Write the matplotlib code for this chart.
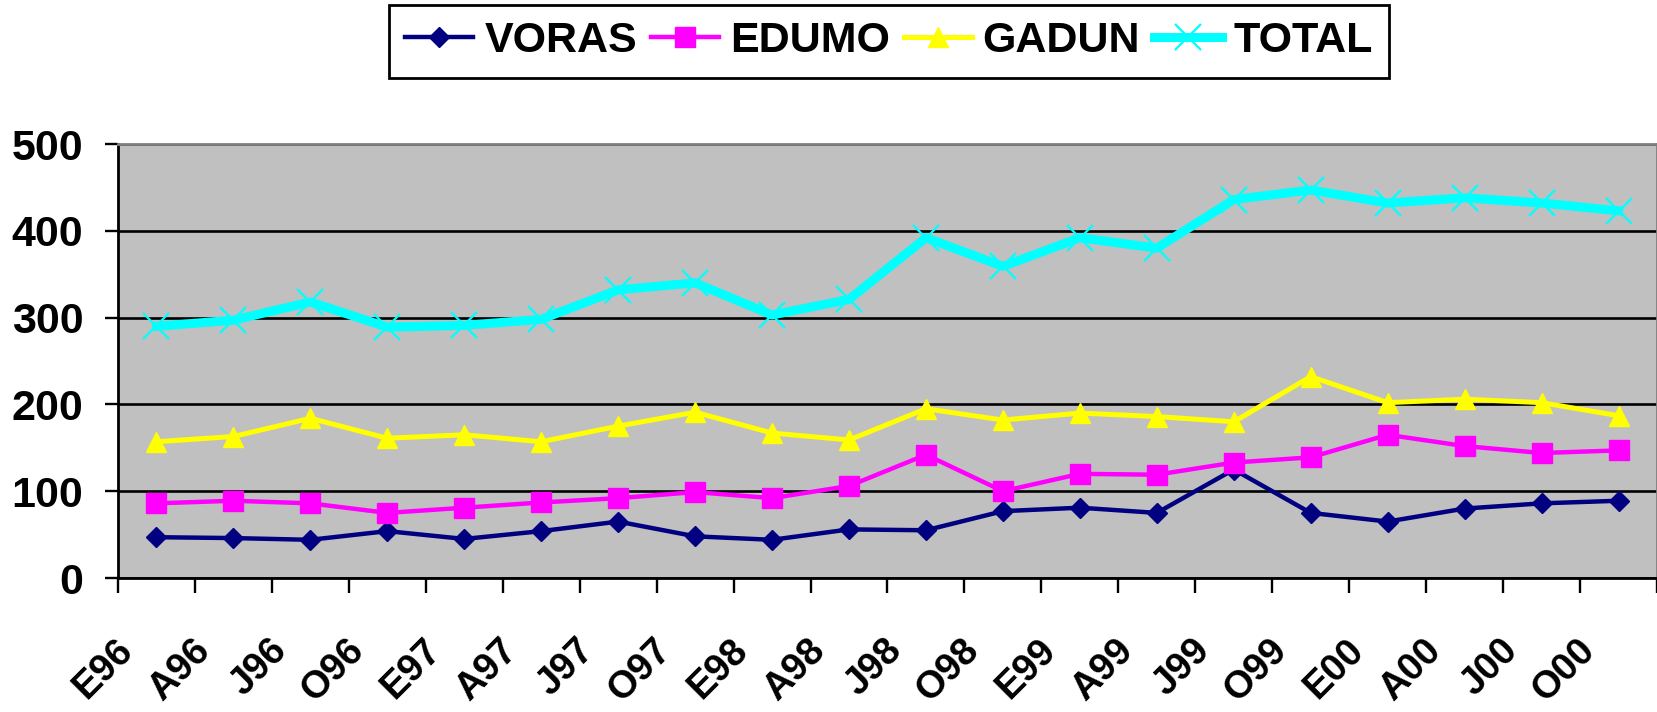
import matplotlib
matplotlib.use("Agg")
import matplotlib.pyplot as plt
import matplotlib.transforms as mtransforms

plt.rcParams['font.family'] = ['Liberation Sans', 'DejaVu Sans']
plt.rcParams['font.weight'] = 'bold'

categories = ["E96", "A96", "J96", "O96", "E97", "A97", "J97", "O97", "E98", "A98",
              "J98", "O98", "E99", "A99", "J99", "O99", "E00", "A00", "J00", "O00"]
voras = [47, 46, 44, 54, 45, 54, 65, 48, 44, 56, 55, 77, 81, 75, 125, 75, 65, 80, 86, 89]
edumo = [86, 89, 86, 75, 81, 87, 92, 99, 92, 106, 142, 100, 120, 119, 133, 139, 165, 152, 144, 147]
gadun = [157, 163, 184, 161, 165, 157, 175, 191, 167, 159, 195, 182, 190, 186, 180, 232, 202, 206, 202, 187]
total = [290, 297, 318, 289, 291, 298, 332, 340, 303, 321, 392, 359, 392, 380, 436, 447, 432, 438, 432, 423]
yticks = [0, 100, 200, 300, 400, 500]

W, H = 1658, 712
fig = plt.figure(figsize=(W / 100, H / 100), dpi=100)
ax = fig.add_axes([118 / W, 1 - 578 / H, (1657 - 118) / W, (578 - 144) / H])
ax.set_facecolor('#C0C0C0')

x = list(range(len(categories)))
ax.plot(x, voras, color='#000080', lw=3.2, marker='D', ms=10, label='VORAS', zorder=3)
ax.plot(x, edumo, color='#FF00FF', lw=3.2, marker='s', ms=15, label='EDUMO', zorder=3)
ax.plot(x, gadun, color='#FFFF00', lw=3.6, marker='^', ms=15, label='GADUN', zorder=3)
ax.plot(x, total, color='#00FFFF', lw=6.5, marker='x', ms=19, mew=1.6, label='TOTAL', zorder=3)

ax.set_xlim(-0.5, len(categories) - 0.5)
ax.set_ylim(0, 500)
ax.set_yticks(yticks)
ax.set_yticklabels([str(v) for v in yticks], fontsize=31, fontweight='bold')
yoff = mtransforms.ScaledTranslation(0, -7 / 100, fig.dpi_scale_trans)
for lab in ax.get_yticklabels():
    lab.set_transform(lab.get_transform() + yoff)
ax.yaxis.grid(True, color='black', lw=1.9, zorder=1)
ax.set_axisbelow(True)

# category boundaries as tick marks, labels at centres
ax.set_xticks([i - 0.5 for i in range(len(categories) + 1)])
ax.set_xticklabels([])
ax.tick_params(axis='x', length=10.5, width=1.7, direction='out', color='black')
ax.tick_params(axis='y', length=9.5, width=1.7, direction='out', color='black', pad=15.5)
ax.set_xticks(x, minor=True)
ax.set_xticklabels(categories, minor=True, rotation=45, ha='right', va='top',
                   rotation_mode='anchor', fontsize=27.5, fontweight='bold')
ax.tick_params(axis='x', which='minor', length=0, pad=39)
xoff = mtransforms.ScaledTranslation(-42 / 100, 0, fig.dpi_scale_trans)
for lab in ax.get_xticklabels(minor=True):
    lab.set_transform(lab.get_transform() + xoff)

for s in ['left', 'bottom']:
    ax.spines[s].set_color('black')
    ax.spines[s].set_linewidth(2)
for s in ['top', 'right']:
    ax.spines[s].set_color('#808080')
    ax.spines[s].set_linewidth(2)

leg = fig.legend(loc='upper center', bbox_to_anchor=(889 / W, 1 - 5 / H), ncol=4,
                 prop={'family': 'Liberation Sans', 'weight': 'bold', 'size': 31},
                 frameon=True, fancybox=False, edgecolor='black', framealpha=1,
                 handlelength=1.58, handletextpad=0.25, columnspacing=0.33,
                 borderpad=0.38, borderaxespad=0)
leg.get_frame().set_linewidth(2)

fig.savefig('out.png', dpi=100)
